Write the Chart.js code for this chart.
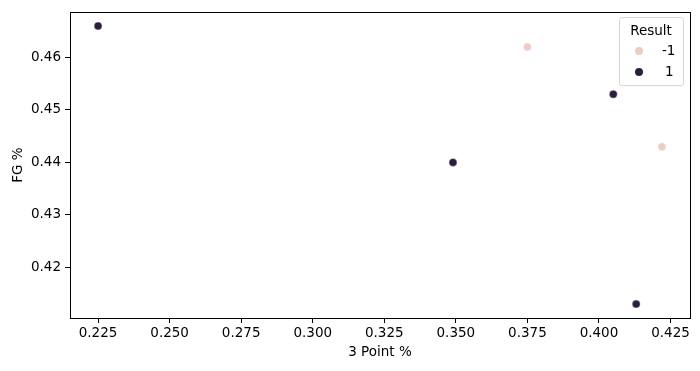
<!DOCTYPE html>
<html>
<head>
<meta charset="utf-8">
<script src="https://cdn.jsdelivr.net/npm/chart.js@4/dist/chart.umd.min.js"></script>
<style>
  html, body { margin: 0; padding: 0; background: #fff; }
</style>
</head>
<body>
<canvas id="chart" width="700" height="371"></canvas>
<script>
// data
const resultLabels = ['-1', '1'];
const lossX = [0.375, 0.422];
const lossY = [0.462, 0.443];
const winX = [0.225, 0.405, 0.349, 0.413];
const winY = [0.466, 0.453, 0.440, 0.413];
const xTicks = [0.225, 0.25, 0.275, 0.3, 0.325, 0.35, 0.375, 0.4, 0.425];
const yTicks = [0.42, 0.43, 0.44, 0.45, 0.46];

const lightColor = '#ebcdc3';
const darkColor = '#2d1e3e';
const FONT = 'DejaVu Sans';
const FSIZE = 13.5;

const toPoints = (xs, ys) => xs.map((x, i) => ({ x: x, y: ys[i] }));

// frame all four sides like matplotlib
const framePlugin = {
    id: 'frame',
    afterDraw(chart) {
        const { ctx, chartArea: a } = chart;
        ctx.save();
        ctx.strokeStyle = '#000';
        ctx.lineWidth = 1;
        ctx.strokeRect(Math.round(a.left) + 0.5, Math.round(a.top) + 0.5,
            Math.round(a.right - a.left), Math.round(a.bottom - a.top));
        ctx.restore();
    }
};

// legend box in the upper right, with a title
const legendPlugin = {
    id: 'boxLegend',
    afterDraw(chart) {
        const { ctx, chartArea: a } = chart;
        const w = 64, h = 68;
        const x0 = a.right - 7 - w, y0 = a.top + 5;
        ctx.save();
        ctx.fillStyle = 'rgba(255,255,255,0.8)';
        ctx.strokeStyle = '#d6d6d6';
        ctx.lineWidth = 1;
        ctx.beginPath();
        ctx.roundRect(x0 + 0.5, y0 + 0.5, w, h, 2);
        ctx.fill();
        ctx.stroke();
        ctx.fillStyle = '#000';
        ctx.font = FSIZE + 'px "' + FONT + '"';
        ctx.textBaseline = 'middle';
        ctx.textAlign = 'center';
        ctx.fillText('Result', x0 + w / 2, y0 + 14);
        chart.data.datasets.forEach((ds, i) => {
            const yy = y0 + 34 + i * 21;
            ctx.fillStyle = ds.backgroundColor;
            ctx.beginPath();
            ctx.arc(x0 + 20, yy, 4, 0, Math.PI * 2);
            ctx.fill();
            ctx.fillStyle = '#000';
            ctx.textAlign = 'left';
            ctx.fillText(ds.label, x0 + (ds.label.length > 1 ? 43 : 46), yy);
        });
        ctx.restore();
    }
};

new Chart(document.getElementById('chart').getContext('2d'), {
    type: 'scatter',
    data: {
        datasets: [{
            label: resultLabels[0],
            data: toPoints(lossX, lossY),
            backgroundColor: lightColor,
            borderColor: '#ffffff',
            borderWidth: 0.4,
            pointRadius: 4
        }, {
            label: resultLabels[1],
            data: toPoints(winX, winY),
            backgroundColor: darkColor,
            borderColor: '#ffffff',
            borderWidth: 0.4,
            pointRadius: 4
        }]
    },
    options: {
        responsive: false,
        animation: false,
        layout: { padding: { top: 9, right: 10, left: 0, bottom: 0 } },
        plugins: {
            legend: { display: false },
            tooltip: { enabled: false }
        },
        scales: {
            x: {
                type: 'linear',
                min: 0.2152,
                max: 0.4318,
                afterBuildTicks: (s) => { s.ticks = xTicks.map(v => ({ value: v })); },
                afterFit: (s) => { s.height = 53; },
                grid: { drawOnChartArea: false, tickLength: 5, tickColor: '#000' },
                border: { display: true, color: '#000' },
                ticks: {
                    color: '#000',
                    font: { family: FONT, size: FSIZE },
                    padding: 2,
                    maxRotation: 0,
                    autoSkip: false,
                    callback: (v) => v.toFixed(3)
                },
                title: {
                    display: true,
                    text: '3 Point %',
                    color: '#000',
                    font: { family: FONT, size: FSIZE },
                    padding: { top: 2, bottom: 10 }
                }
            },
            y: {
                type: 'linear',
                min: 0.41035,
                max: 0.46865,
                afterBuildTicks: (s) => { s.ticks = yTicks.map(v => ({ value: v })); },
                afterFit: (s) => { s.width = 70; },
                grid: { drawOnChartArea: false, tickLength: 5, tickColor: '#000' },
                border: { display: true, color: '#000' },
                ticks: {
                    color: '#000',
                    font: { family: FONT, size: FSIZE },
                    padding: 4,
                    autoSkip: false,
                    callback: (v) => v.toFixed(2)
                },
                title: {
                    display: true,
                    text: 'FG %',
                    color: '#000',
                    font: { family: FONT, size: FSIZE },
                    padding: { top: 10, bottom: 0 }
                }
            }
        }
    },
    plugins: [framePlugin, legendPlugin]
});
</script>
</body>
</html>
